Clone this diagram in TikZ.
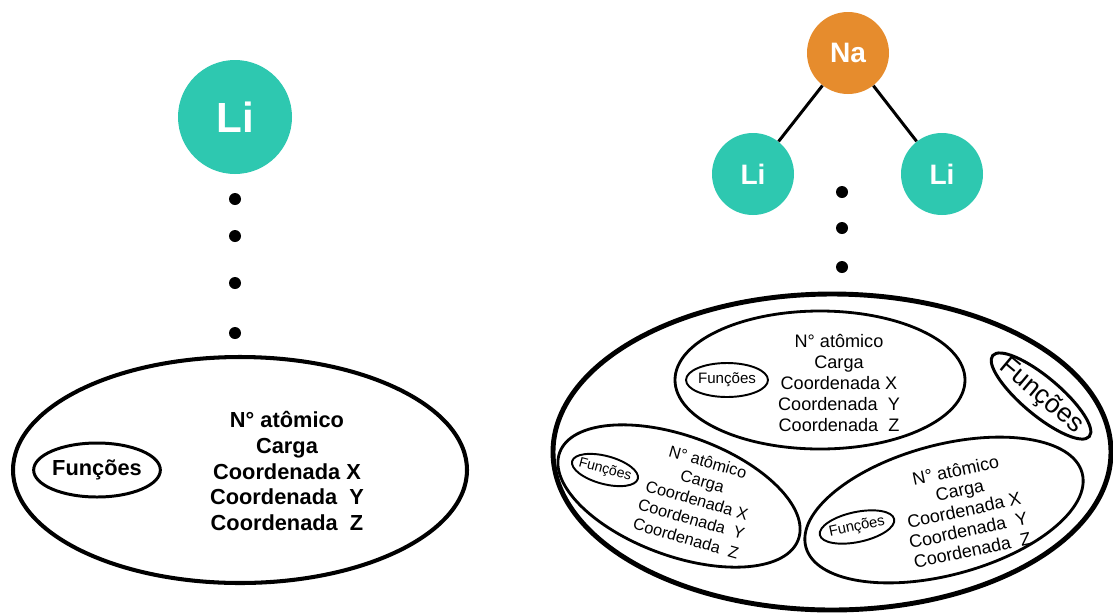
\documentclass[tikz,border=0pt]{standalone}
\usepackage{fontspec}
\setmainfont{Liberation Sans}
\usetikzlibrary{shapes.geometric,positioning}
\definecolor{atomteal}{RGB}{46,200,176}
\definecolor{atomorange}{RGB}{230,140,45}
\newdimen\px \px=0.02cm

\begin{document}
\begin{tikzpicture}[x=0.02cm,y=-0.02cm,
    atom/.style={circle,fill=atomteal,text=white,inner sep=0pt,minimum size=82\px,
                 font=\fontsize{16}{18}\selectfont\bfseries},
    dot/.style={circle,fill=black,inner sep=0pt,minimum size=12\px},
    ring/.style={ellipse,draw,inner sep=0pt,outer sep=0pt},
    props/.style={align=center,inner sep=0pt}]
           \useasboundingbox[fill=white] (0,0) rectangle (1113,613);

           % one atom
           \node[atom, minimum size=114\px, font=\fontsize{24}{28}\selectfont\bfseries] (li_0) at (235,117) {Li};
           \foreach \y [count=\i] in {199,236,283,333}
             \node[dot] (d_\i) at (235,\y) {};
           \node[ring, line width=2.3pt, minimum width=454\px, minimum height=226\px] (cell_0) at (240,470) {};
           \node[ring, line width=1.7pt, minimum width=124\px, minimum height=54\px,
                 font=\fontsize{12.4}{14}\selectfont\bfseries] (fn_0) at (97,470) {Funções};
           \node[props, font=\fontsize{12.4}{14.7}\selectfont\bfseries] (data_0) at (287,471)
             {N° atômico\\Carga\\Coordenada X\\Coordenada\ \ Y\\Coordenada\ \ Z};

           % molecule
           \node[atom, fill=atomorange] (na) at (848,53) {Na};
           \node[atom] (li_1) at (753,174) {Li};
           \node[atom] (li_2) at (942,174) {Li};
           \path[line width=1.7pt]
            (na) edge (li_1)
            (na) edge (li_2);
           \foreach \y [count=\i] in {192,228,267}
             \node[dot] (e_\i) at (842,\y) {};
           \node[ring, line width=2.8pt, minimum width=558\px, minimum height=316\px] (cell) at (832,452) {};

           % inner cells
           \node[ring, line width=1.6pt, minimum width=290\px, minimum height=138\px] (cell_1) at (820,380) {};
           \node[ring, line width=1.1pt, minimum width=80\px, minimum height=34\px,
                 font=\fontsize{8.6}{10}\selectfont] (fn_1) at (727,380) {Funções};
           \node[props, font=\fontsize{10.3}{12}\selectfont] (data_1) at (839,383)
             {N° atômico\\Carga\\Coordenada X\\Coordenada\ \ Y\\Coordenada\ \ Z};

           \node[ring, line width=1.6pt, minimum width=254\px, minimum height=120\px, rotate=-20] (cell_2) at (679,496) {};
           \node[ring, line width=1.1pt, minimum width=68\px, minimum height=28\px, inner xsep=-1.7pt, rotate=-15,
                 font=\fontsize{8}{10}\selectfont] (fn_2) at (605,470) {Funções};
           \node[props, rotate=-16, font=\fontsize{9.3}{11.3}\selectfont] (data_2) at (697,500)
             {N° atômico\\Carga\\Coordenada X\\Coordenada\ \ Y\\Coordenada\ \ Z};

           \node[ring, line width=1.6pt, minimum width=286\px, minimum height=130\px, rotate=15] (cell_3) at (944,510) {};
           \node[ring, line width=1.1pt, minimum width=76\px, minimum height=30\px, inner xsep=-0.9pt, rotate=12,
                 font=\fontsize{8.4}{10}\selectfont] (fn_3) at (857,527) {Funções};
           \node[props, rotate=12, font=\fontsize{10.2}{11.6}\selectfont] (data_3) at (964,510)
             {N° atômico\\Carga\\Coordenada X\\Coordenada\ \ Y\\Coordenada\ \ Z};

           \node[ring, line width=1.7pt, minimum height=38\px, inner xsep=-3.4pt, rotate=-40,
                 font=\fontsize{15}{17}\selectfont] (fn) at (1041,396) {Funções};
        \end{tikzpicture}
\end{document}
